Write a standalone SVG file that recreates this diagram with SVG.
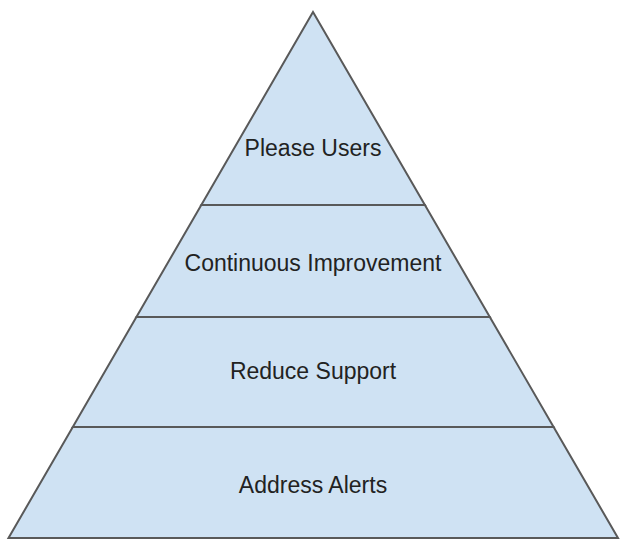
<svg xmlns="http://www.w3.org/2000/svg" width="630" height="546" viewBox="0 0 630 546">
<style>
.layer{fill:#cfe2f3;stroke:#595959;stroke-width:2;stroke-linejoin:miter}
.lbl{font-family:"Liberation Sans",Arial,sans-serif;font-size:23px;fill:#222;text-anchor:middle}
</style>
<rect width="630" height="546" fill="#ffffff"/>
<g id="layer-address-alerts">
<polygon class="layer" points="72.8,427 553.6,427 618,538 8.5,538"/>
<text class="lbl" x="313" y="493.3">Address Alerts</text>
</g>
<g id="layer-reduce-support">
<polygon class="layer" points="136.4,317 489.8,317 553.6,427 72.8,427"/>
<text class="lbl" x="313" y="379.3">Reduce Support</text>
</g>
<g id="layer-continuous-improvement">
<polygon class="layer" points="201.3,205 424.9,205 489.8,317 136.4,317"/>
<text class="lbl" x="313" y="271">Continuous Improvement</text>
</g>
<g id="layer-please-users">
<polygon class="layer" points="313,12 424.9,205 201.3,205"/>
<text class="lbl" x="313" y="156">Please Users</text>
</g>
<g id="connectors"></g>
</svg>
